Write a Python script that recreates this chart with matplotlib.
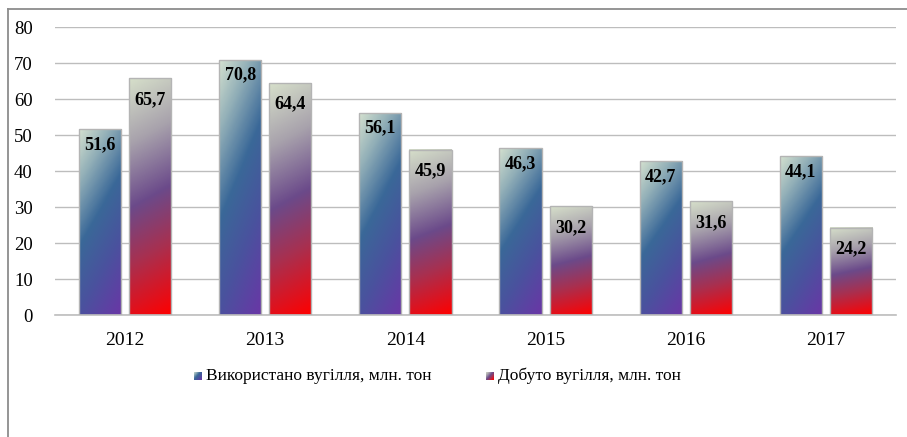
import numpy as np
import matplotlib
matplotlib.use("Agg")
import matplotlib.pyplot as plt
from matplotlib.colors import LinearSegmentedColormap
from matplotlib.patches import Rectangle
from matplotlib.lines import Line2D

years = ["2012", "2013", "2014", "2015", "2016", "2017"]
used = [51.6, 70.8, 56.1, 46.3, 42.7, 44.1]
mined = [65.7, 64.4, 45.9, 30.2, 31.6, 24.2]
labels = ["Використано вугілля, млн. тон", "Добуто вугілля, млн. тон"]

serif = ["Liberation Serif", "DejaVu Serif"]
plt.rcParams["font.family"] = serif

cmap_blue = LinearSegmentedColormap.from_list(
    "b", [(0, "#d3e0cf"), (0.2, "#93b0b8"), (0.45, "#3a6898"), (0.7, "#4a529e"), (1, "#6a36a6")])
cmap_red = LinearSegmentedColormap.from_list(
    "r", [(0, "#d6dfca"), (0.25, "#a8a2ac"), (0.5, "#6b4a8a"), (0.72, "#a83050"), (1, "#ff0000")])

W, H = 907, 437
fig = plt.figure(figsize=(W / 100, H / 100), dpi=100)
ax = fig.add_axes([55 / W, 1 - 315 / H, (896 - 55) / W, (315 - 27) / H])

# frame
fig.add_artist(Line2D([8 / W, 8 / W], [0, 1 - 9 / H], transform=fig.transFigure, color="#8c8c8c", lw=1.3))
fig.add_artist(Line2D([8 / W, 1], [1 - 9 / H, 1 - 9 / H], transform=fig.transFigure, color="#8c8c8c", lw=1.3))

ax.set_xlim(-0.5, len(years) - 0.5)
ax.set_ylim(0, 80)
ax.set_yticks(range(0, 81, 10))
ax.grid(axis="y", color="#bdbdbd", lw=1.0)
ax.set_axisbelow(True)
for s in ["top", "right", "left"]:
    ax.spines[s].set_visible(False)
ax.spines["bottom"].set_color("#bdbdbd")
ax.spines["bottom"].set_linewidth(1.2)
ax.tick_params(length=0)
ax.tick_params(axis="y", pad=16, labelsize=13.5)
ax.tick_params(axis="x", pad=12, labelsize=14)
ax.set_xticks(range(len(years)))
ax.set_xticklabels(years)

bw = 0.3
off = 0.179


def grad_bar(xc, h, cmap, a):
    x0, x1 = xc - bw / 2, xc + bw / 2
    n = 200
    u = np.linspace(0, 1, 40)[None, :]
    v = np.linspace(0, 1, n)[:, None]  # 0 at top
    t = (a * u + v) / (1 + a)
    img = cmap(t)
    ax.imshow(img, extent=(x0, x1, 0, h), origin="upper", aspect="auto",
              interpolation="bilinear", zorder=2)
    ax.add_patch(Rectangle((x0, 0), bw, h, fill=False, ec="#b4b4b4", lw=1.0, zorder=3))


for i, (u_, m_) in enumerate(zip(used, mined)):
    grad_bar(i - off, u_, cmap_blue, 0.4)
    grad_bar(i + off, m_, cmap_red, 0.1)
    ax.annotate(f"{u_:.1f}".replace(".", ","), (i - off, u_), xytext=(0, -15),
                textcoords="offset pixels", ha="center", va="center",
                fontsize=13, fontweight="bold", zorder=4)
    ax.annotate(f"{m_:.1f}".replace(".", ","), (i + off, m_), xytext=(0, -21),
                textcoords="offset pixels", ha="center", va="center",
                fontsize=13, fontweight="bold", zorder=4)
ax.set_xlim(-0.5, len(years) - 0.5)
ax.set_ylim(0, 80)

# legend
def legend_item(px, text, cmap, a):
    lax = fig.add_axes([px / W, 1 - 380 / H, 8 / W, 8 / H])
    u = np.linspace(0, 1, 10)[None, :]
    v = np.linspace(0, 1, 10)[:, None]
    lax.imshow(cmap((a * u + v) / (1 + a)), aspect="auto", interpolation="bilinear")
    lax.axis("off")
    fig.text((px + 12) / W, 1 - 376 / H, text, ha="left", va="center", fontsize=12.5)


legend_item(194, labels[0], cmap_blue, 1.0)
legend_item(486, labels[1], cmap_red, 1.0)

fig.savefig("out.png", dpi=100)
